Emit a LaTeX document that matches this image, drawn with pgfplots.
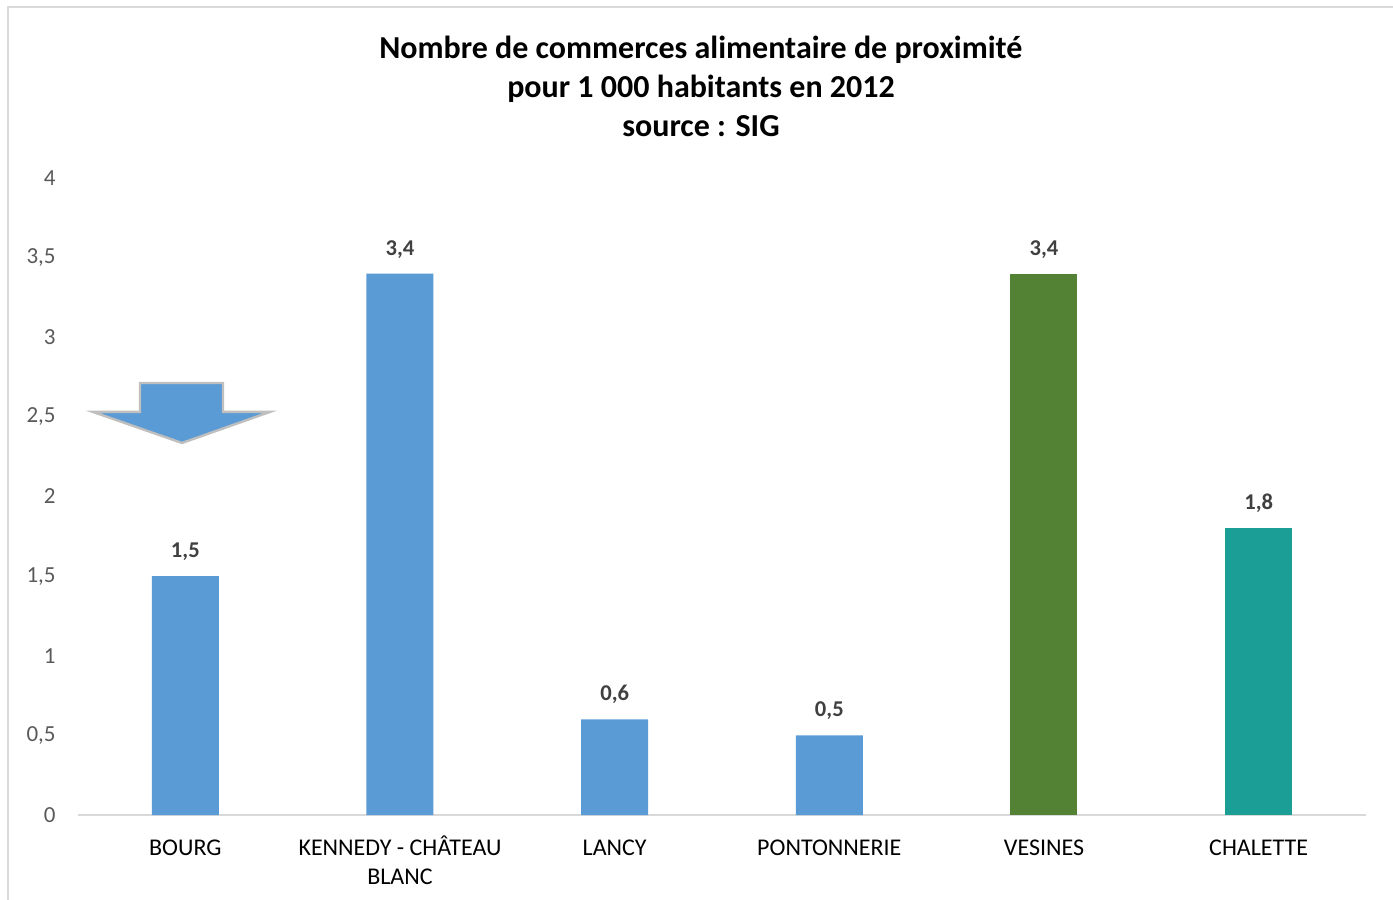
\documentclass[border=0pt]{standalone}
\usepackage{fontspec}
\setmainfont{Carlito}
\usepackage{pgfplots}
\pgfplotsset{compat=1.18}
\definecolor{cblue}{HTML}{5B9BD5}
\definecolor{cgreen}{HTML}{548235}
\definecolor{cteal}{HTML}{1A9E96}
\definecolor{ticklab}{HTML}{595959}
\definecolor{datalab}{HTML}{404040}
\definecolor{axline}{HTML}{D9D9D9}
\definecolor{arrowedge}{HTML}{BFBFBF}
\begin{document}
\begin{tikzpicture}[x=1pt,y=1pt]
\path[use as bounding box] (0,0) rectangle (696.5,450);
\draw[axline, line width=1.2pt] (4,0) -- (4,446.5) -- (697,446.5);
\node[font=\bfseries\fontsize{16}{19}\selectfont, anchor=center] at (350.5,425) {Nombre de commerces alimentaire de proximité};
\node[font=\bfseries\fontsize{16}{19}\selectfont, anchor=center] at (350.5,405.5) {pour 1 000 habitants en 2012};
\node[font=\bfseries\fontsize{16}{19}\selectfont, anchor=center] at (350.5,387) {source : SIG};
\begin{axis}[
  at={(39pt,42.5pt)}, anchor=south west,
  scale only axis, width=644pt, height=318.5pt,
  xmin=-0.5, xmax=5.5, ymin=0, ymax=4,
  ybar, bar width=33.5pt, bar shift=0pt,
  axis line style={draw=none},
  axis x line*=bottom, axis y line*=left,
  ytick={0,0.5,...,4},
  xtick={0,1,2,3,4,5},
  xticklabels={\vphantom{Â}BOURG, {\vphantom{Â}KENNEDY - CHÂTEAU\\BLANC}, \vphantom{Â}LANCY, \vphantom{Â}PONTONNERIE, \vphantom{Â}VESINES, \vphantom{Â}CHALETTE},
  major tick length=0pt,
  /pgf/number format/assume math mode=true,
  /pgf/number format/use comma,
  yticklabel style={font=\fontsize{11.5}{13}\selectfont, text=ticklab, anchor=east, inner sep=0pt, xshift=-11pt},
  xticklabel style={font=\fontsize{12}{14.5}\selectfont, text=black, align=center, anchor=north, inner sep=0pt, yshift=-10pt},
  nodes near coords,
  point meta=y,
  nodes near coords style={font=\bfseries\fontsize{11.3}{13}\selectfont, text=datalab, anchor=south, inner sep=0pt, yshift=7.5pt,
    /pgf/number format/fixed, /pgf/number format/fixed zerofill, /pgf/number format/precision=1, /pgf/number format/use comma, /pgf/number format/assume math mode=true},
  clip=false,
]
\draw[axline, line width=1pt] (axis cs:-0.5,0) -- (axis cs:5.5,0);
\addplot[fill=cblue, draw=none] coordinates {(0,1.5) (1,3.4) (2,0.6) (3,0.5)};
\addplot[fill=cgreen, draw=none] coordinates {(4,3.4)};
\addplot[fill=cteal, draw=none] coordinates {(5,1.8)};
\draw[arrowedge, fill=cblue, line width=1.2pt]
  (axis cs:-0.211,2.713) -- (axis cs:0.1755,2.713) -- (axis cs:0.1755,2.531)
  -- (axis cs:0.394,2.531) -- (axis cs:-0.0155,2.336) -- (axis cs:-0.430,2.531)
  -- (axis cs:-0.211,2.531) -- cycle;
\end{axis}
\end{tikzpicture}
\end{document}
